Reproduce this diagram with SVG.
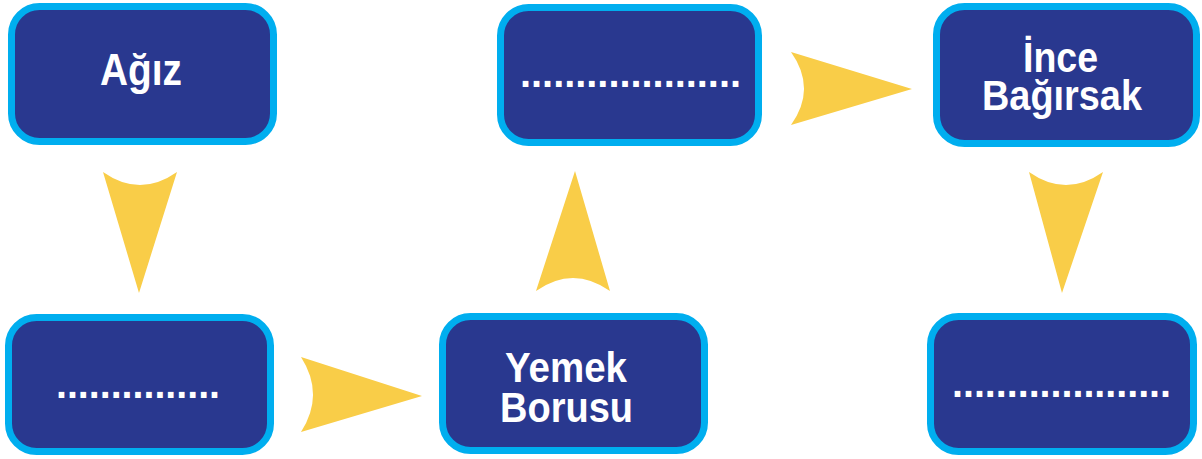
<svg xmlns="http://www.w3.org/2000/svg" width="1202" height="459" viewBox="0 0 1202 459">
<style>
.box{fill:#29388f;stroke:#00aeef;stroke-width:7}
.lbl{fill:#ffffff;font-family:"Liberation Sans",Arial,sans-serif;font-weight:bold;font-size:44px}
.lbl2{fill:#ffffff;font-family:"Liberation Sans",Arial,sans-serif;font-weight:bold;font-size:42px}
.dots{fill:#ffffff;font-family:"Liberation Sans",Arial,sans-serif;font-weight:bold;font-size:40px}
.arr{fill:#f9cd48}
</style>
<rect width="1202" height="459" fill="#ffffff"/>
<g id="connectors">
<path class="arr" d="M103,172 Q140,198 177,172 L139,293 Z"/>
<path class="arr" d="M301,357 Q325,394.5 301,432 L422,396 Z"/>
<path class="arr" d="M536,291 Q573,265 610,291 L575,171 Z"/>
<path class="arr" d="M791,52 Q817,88.5 791,125 L912,89 Z"/>
<path class="arr" d="M1029,172 Q1066,198 1103,172 L1062,293 Z"/>
</g>
<g id="node-agiz">
<rect class="box" x="11.5" y="6.5" width="262" height="135" rx="28"/>
<text class="lbl" x="100" y="85" textLength="82" lengthAdjust="spacingAndGlyphs">Ağız</text>
</g>
<g id="node-blank1">
<rect class="box" x="8.5" y="317.5" width="262" height="134" rx="28"/>
<text class="dots" x="56" y="398" textLength="164" lengthAdjust="spacingAndGlyphs">...............</text>
</g>
<g id="node-yemek-borusu">
<rect class="box" x="442.5" y="316.5" width="262" height="134" rx="28"/>
<text class="lbl2" x="505" y="382" textLength="122" lengthAdjust="spacingAndGlyphs">Yemek</text>
<text class="lbl2" x="500" y="422" textLength="133" lengthAdjust="spacingAndGlyphs">Borusu</text>
</g>
<g id="node-blank2">
<rect class="box" x="500.5" y="7.5" width="258" height="135" rx="28"/>
<text class="dots" x="520" y="87" textLength="221" lengthAdjust="spacingAndGlyphs">....................</text>
</g>
<g id="node-ince-bagirsak">
<rect class="box" x="936.5" y="6.5" width="260" height="137" rx="28"/>
<text class="lbl2" x="1023" y="72" textLength="75" lengthAdjust="spacingAndGlyphs">İnce</text>
<text class="lbl2" x="982" y="110" textLength="160" lengthAdjust="spacingAndGlyphs">Bağırsak</text>
</g>
<g id="node-blank3">
<rect class="box" x="930.5" y="316.5" width="263" height="135" rx="28"/>
<text class="dots" x="952" y="397" textLength="219" lengthAdjust="spacingAndGlyphs">....................</text>
</g>
</svg>
